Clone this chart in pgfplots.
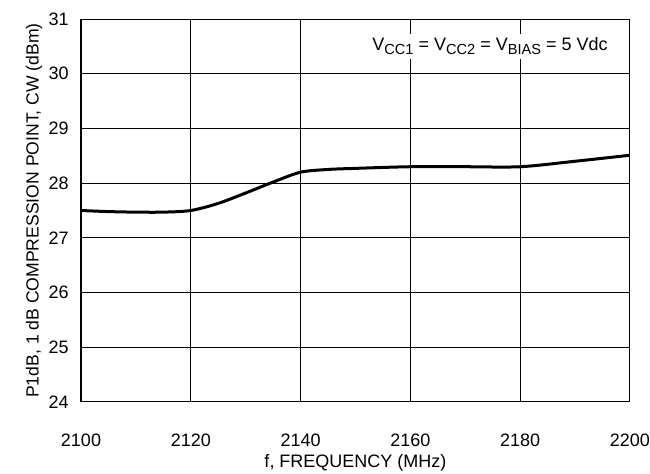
\documentclass[border=0pt]{standalone}
\usepackage{fontspec}
\setmainfont{Liberation Sans}
\usepackage{pgfplots}
\pgfplotsset{compat=1.18}
\newcommand\sub[1]{\raisebox{-0.45ex}{\fontsize{7.3}{8}\selectfont #1}}
\begin{document}
\fontsize{9}{10}\selectfont
\begin{tikzpicture}
\begin{axis}[name=ax,
  scale only axis, width=274.5pt, height=191.5pt,
  xmin=2100, xmax=2200, ymin=24, ymax=31,
  xtick={2100,2120,...,2200}, ytick={24,...,31},
  grid=both, major grid style={black, line width=0.5pt},
  axis line style={black, line width=0.5pt},
  tick style={draw=none},
  /pgf/number format/assume math mode=true,
  /pgf/number format/1000 sep={},
  ticklabel style={font=\fontsize{9}{10}\selectfont},
  xticklabel style={yshift=-13pt},
  yticklabel style={xshift=-3pt},
  xlabel={f, FREQUENCY (MHz)},
  ylabel={P1dB, 1 dB COMPRESSION POINT, CW (dBm)},
  xlabel style={font=\fontsize{9}{10}\selectfont, yshift=2.5pt},
  ylabel style={font=\fontsize{8.8}{10}\selectfont, yshift=-3pt},
]
\addplot[black, line width=1.5pt, smooth, tension=0.5] coordinates {
(2100,27.5)(2105,27.48)(2110,27.47)(2115,27.47)(2120,27.5)
(2125,27.63)(2130,27.82)(2135,28.02)(2140,28.2)(2145,28.25)
(2150,28.27)(2160,28.3)(2170,28.3)(2180,28.3)(2190,28.4)(2200,28.51)};
\draw[black, line width=1.1pt] (rel axis cs:0,0) -- (rel axis cs:0,1);
\draw[black, line width=1pt] (rel axis cs:0,0) -- (rel axis cs:1,0);
\node[fill=white, inner sep=2pt, font=\fontsize{9}{10}\selectfont] at (axis cs:2174.5,30.5)
  {V\sub{CC1} = V\sub{CC2} = V\sub{BIAS} = 5 Vdc};
\end{axis}
\pgfresetboundingbox
\path ([xshift=-40.5pt,yshift=-36pt]ax.south west) rectangle ([xshift=10pt,yshift=9.5pt]ax.north east);
\end{tikzpicture}
\end{document}
